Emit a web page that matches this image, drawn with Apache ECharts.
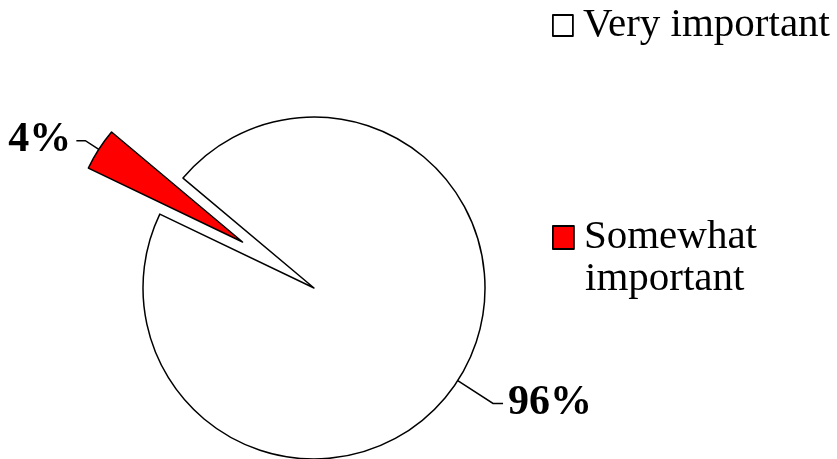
<!DOCTYPE html>
<html>
<head>
<meta charset="utf-8">
<script src="https://cdn.jsdelivr.net/npm/echarts@6/dist/echarts.min.js"></script>
<style>html,body{margin:0;padding:0;background:#fff}#c{width:837px;height:459px}</style>
</head>
<body>
<div id="c"></div>
<script>
var categories = ['Very important', 'Somewhat important'];
var values = [96, 4];
var colors = ['#ffffff', '#ff0000'];
var labelTexts = ['96%', '4%'];
var legendLines = [['Very important'], ['Somewhat', 'important']];

var chart = echarts.init(document.getElementById('c'), null, {renderer: 'canvas'});
var font = '"Liberation Serif", "Times New Roman", serif';
var lineLens = [42, 16];
var lineLens2 = [10, 9];
var data = categories.map(function (name, i) {
  return {
    name: name,
    value: values[i],
    selected: i === 1,
    itemStyle: {color: colors[i]},
    select: {itemStyle: {color: colors[i], borderColor: '#000', borderWidth: 1.5}},
    label: {formatter: labelTexts[i]},
    labelLine: {length: lineLens[i], length2: lineLens2[i]}
  };
});
var legendText = {fontFamily: font, fontSize: 41, color: '#000', padding: [0, 0, 0, 5]};
chart.setOption({
  animation: false,
  legend: [
    {
      data: [categories[0]],
      icon: 'rect',
      left: 547, top: 0,
      itemWidth: 20, itemHeight: 21,
      itemStyle: {borderWidth: 1.8},
      formatter: function () { return legendLines[0][0]; },
      textStyle: legendText,
      selectedMode: false
    },
    {
      data: [categories[1]],
      icon: 'rect',
      left: 547, top: 212,
      itemWidth: 21, itemHeight: 23,
      itemStyle: {borderWidth: 1.8},
      formatter: function () { return legendLines[1][0]; },
      textStyle: legendText,
      selectedMode: false
    }
  ],
  graphic: [{
    type: 'text',
    left: 585, top: 259,
    style: {text: legendLines[1][1], font: '41px ' + font, fill: '#000'}
  }],
  series: [{
    type: 'pie',
    center: [314, 288],
    radius: 171,
    startAngle: 140,
    clockwise: true,
    selectedMode: 'single',
    selectedOffset: 85,
    avoidLabelOverlap: false,
    emphasis: {disabled: true},
    itemStyle: {borderColor: '#000', borderWidth: 1.5},
    label: {
      show: true,
      position: 'outside',
      fontFamily: font,
      fontSize: 42,
      fontWeight: 'bold',
      color: '#000',
      distanceToLabelLine: 5
    },
    labelLine: {
      show: true,
      lineStyle: {color: '#000', width: 1.5}
    },
    data: data
  }]
});
</script>
</body>
</html>
